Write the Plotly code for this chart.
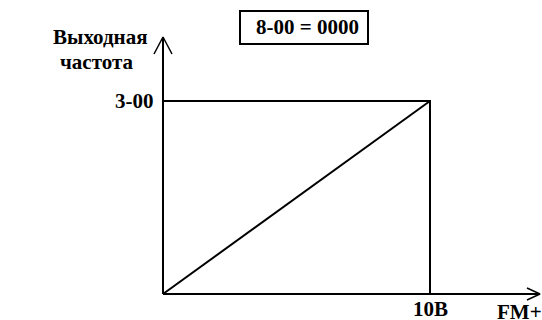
import plotly.graph_objects as go

# ---- data ----
volts = [0, 10]            # FM+ input voltage
freq = [0, 1]              # output frequency, relative to parameter 3-00
x_tick_label = "10B"
y_tick_label = "3-00"
y_axis_title = ["Выходная", "частота"]
x_axis_title = "FM+"
box_label = "8-00 = 0000"

W, H = 542, 320
# pixel anchors of the drawing
X0_PX, X10_PX = 163, 430
Y0_PX, Y1_PX = 294, 101
sx = (X10_PX - X0_PX) / (volts[1] - volts[0])
sy = (Y0_PX - Y1_PX) / (freq[1] - freq[0])
xr = [-X0_PX / sx, (W - X0_PX) / sx]
yr = [-(H - Y0_PX) / sy, Y0_PX / sy]

def px2x(p):
    return (p - X0_PX) / sx

def px2y(p):
    return (Y0_PX - p) / sy

line = dict(color="black", width=2)
fig = go.Figure()

# y axis with open arrow
yt = px2y(37)
fig.add_trace(go.Scatter(x=[0, 0], y=[0, yt], mode="lines", line=line, hoverinfo="skip"))
fig.add_trace(go.Scatter(x=[px2x(154), 0, px2x(172)], y=[px2y(54), yt, px2y(54)],
                         mode="lines", line=dict(color="black", width=1.5), hoverinfo="skip"))
# x axis with open arrow
xt = px2x(540)
fig.add_trace(go.Scatter(x=[0, xt], y=[0, 0], mode="lines", line=line, hoverinfo="skip"))
fig.add_trace(go.Scatter(x=[px2x(527), xt, px2x(527)], y=[px2y(288), 0, px2y(300)],
                         mode="lines", line=dict(color="black", width=1.5), hoverinfo="skip"))
# limits
fig.add_trace(go.Scatter(x=[volts[0], volts[1], volts[1]], y=[freq[1], freq[1], freq[0]],
                         mode="lines", line=line, hoverinfo="skip"))
# characteristic
fig.add_trace(go.Scatter(x=volts, y=freq, mode="lines", line=line, hoverinfo="skip"))

FAM = "Liberation Serif"
font = dict(family=FAM, size=21, color="black")

def b(t):
    return "<b>" + t + "</b>"

ann = [
    dict(x=px2x(156), y=freq[1], text=b(y_tick_label), xanchor="right", yanchor="middle"),
    dict(x=volts[1], y=px2y(309), text=b(x_tick_label), xanchor="center", yanchor="middle"),
    dict(x=px2x(519), y=px2y(312), text=b(x_axis_title), xanchor="center", yanchor="middle"),
    dict(x=px2x(100), y=px2y(37), text=b(y_axis_title[0]), xanchor="center", yanchor="middle"),
    dict(x=px2x(96), y=px2y(62), text=b(y_axis_title[1]), xanchor="center", yanchor="middle"),
    dict(x=px2x(307), y=px2y(27), text=b(box_label), xanchor="center", yanchor="middle"),
]
for a in ann:
    a.update(xref="x", yref="y", showarrow=False, font=font)
fig.update_layout(annotations=ann)

fig.add_shape(type="rect", xref="x", yref="y",
              x0=px2x(240), x1=px2x(368), y0=px2y(11), y1=px2y(44),
              line=dict(color="black", width=2))

fig.update_layout(
    width=W, height=H, margin=dict(l=0, r=0, t=0, b=0),
    paper_bgcolor="white", plot_bgcolor="white", showlegend=False,
    xaxis=dict(range=xr, visible=False, fixedrange=True),
    yaxis=dict(range=yr, visible=False, fixedrange=True),
)
fig.write_html("out.html", config={"displayModeBar": False},
               post_script="document.body.style.margin='0';document.body.style.overflow='hidden';")
